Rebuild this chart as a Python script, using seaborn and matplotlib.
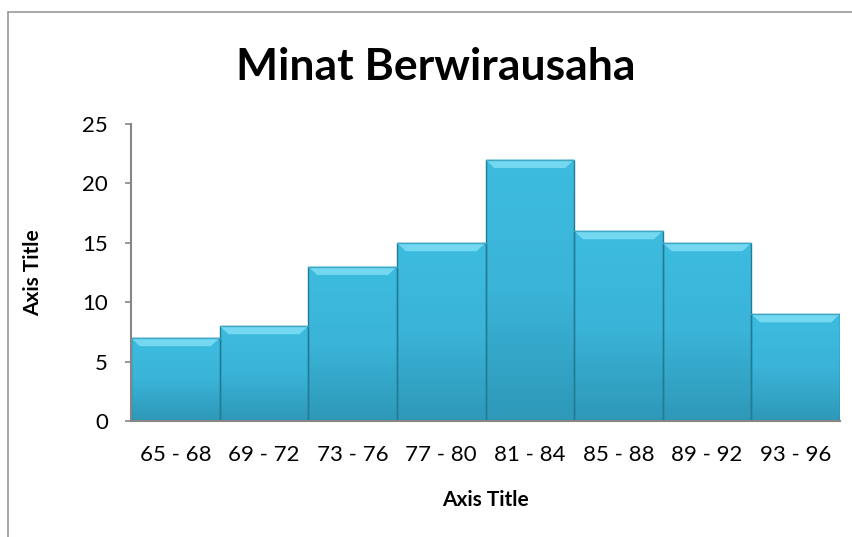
import matplotlib
matplotlib.use("Agg")
import matplotlib.pyplot as plt
from matplotlib.patches import Polygon
from matplotlib.lines import Line2D
import seaborn as sns
import pandas as pd
import numpy as np

# Data
kelas = ['65 - 68', '69 - 72', '73 - 76', '77 - 80', '81 - 84', '85 - 88', '89 - 92', '93 - 96']
frekuensi = [7, 8, 13, 15, 22, 16, 15, 9]
judul = 'Minat Berwirausaha'
label_x = 'Axis Title'
label_y = 'Axis Title'

sns.set_style("white")
plt.rcParams['font.family'] = ['Lato', 'DejaVu Sans']
plt.rcParams['text.color'] = 'black'
plt.rcParams['axes.labelcolor'] = 'black'

df = pd.DataFrame({'kelas': kelas, 'frekuensi': frekuensi})

fig = plt.figure(figsize=(8.53, 5.37), dpi=100)
ax = fig.add_axes([0.1536, 0.216, 0.8312, 0.553])

sns.barplot(data=df, x='kelas', y='frekuensi', ax=ax, color='#38B2D6',
            saturation=1, width=1.0, edgecolor='#237A93', linewidth=1.0)

ax.set_xlim(-0.5, len(kelas) - 0.5)
ax.set_ylim(0, 25)

# gradient body + bevelled top on every bar, taken from the bar geometry
grad = np.linspace(0, 1, 256).reshape(-1, 1)
cmap = matplotlib.colors.LinearSegmentedColormap.from_list(
    'bev', ['#2E98B8', '#3AB4D8', '#3DBCE0'])
for p in list(ax.patches):
    x0 = p.get_x()
    w = p.get_width()
    h = p.get_height()
    im = ax.imshow(grad, extent=[x0, x0 + w, 0, h], origin='lower', cmap=cmap,
                   aspect='auto', zorder=2)
    im.set_clip_path(p)
    p.set_facecolor('none')
    p.set_zorder(3)
    bev = 0.7
    inset = 0.1 * w
    top = Polygon([[x0, h], [x0 + w, h], [x0 + w - inset, h - bev], [x0 + inset, h - bev]],
                  closed=True, facecolor='#74D8F1', edgecolor='none', zorder=3)
    ax.add_patch(top)
    ax.plot([x0, x0 + w], [h, h], color='#3FA9C8', lw=1.0, zorder=4)

ax.set_xlim(-0.5, len(kelas) - 0.5)
ax.set_ylim(0, 25)
ax.set_yticks([0, 5, 10, 15, 20, 25])

for side in ['top', 'right']:
    ax.spines[side].set_visible(False)
for side in ['left', 'bottom']:
    ax.spines[side].set_color('#868686')
    ax.spines[side].set_linewidth(1.5)
    ax.spines[side].set_zorder(5)

ax.tick_params(axis='y', which='both', left=True, length=4.5, width=1.2,
               color='#868686', labelcolor='black', labelsize=16, pad=12)
ax.tick_params(axis='x', bottom=False, labelcolor='black', labelsize=16, pad=14)

ax.set_xlabel(label_x, fontsize=15, fontweight='bold', labelpad=18)
ax.set_ylabel(label_y, fontsize=15, fontweight='bold', labelpad=28)

fig.text(0.511, 0.851, judul, ha='center', va='baseline', fontsize=32, fontweight='bold')

# chart frame (left and top edges visible)
fig.add_artist(Line2D([0.0094, 0.0094], [0.0, 0.978], color='#9A9A9A', lw=1.2))
fig.add_artist(Line2D([0.0094, 1.0], [0.978, 0.978], color='#9A9A9A', lw=1.2))

fig.savefig('out.png', dpi=100)
